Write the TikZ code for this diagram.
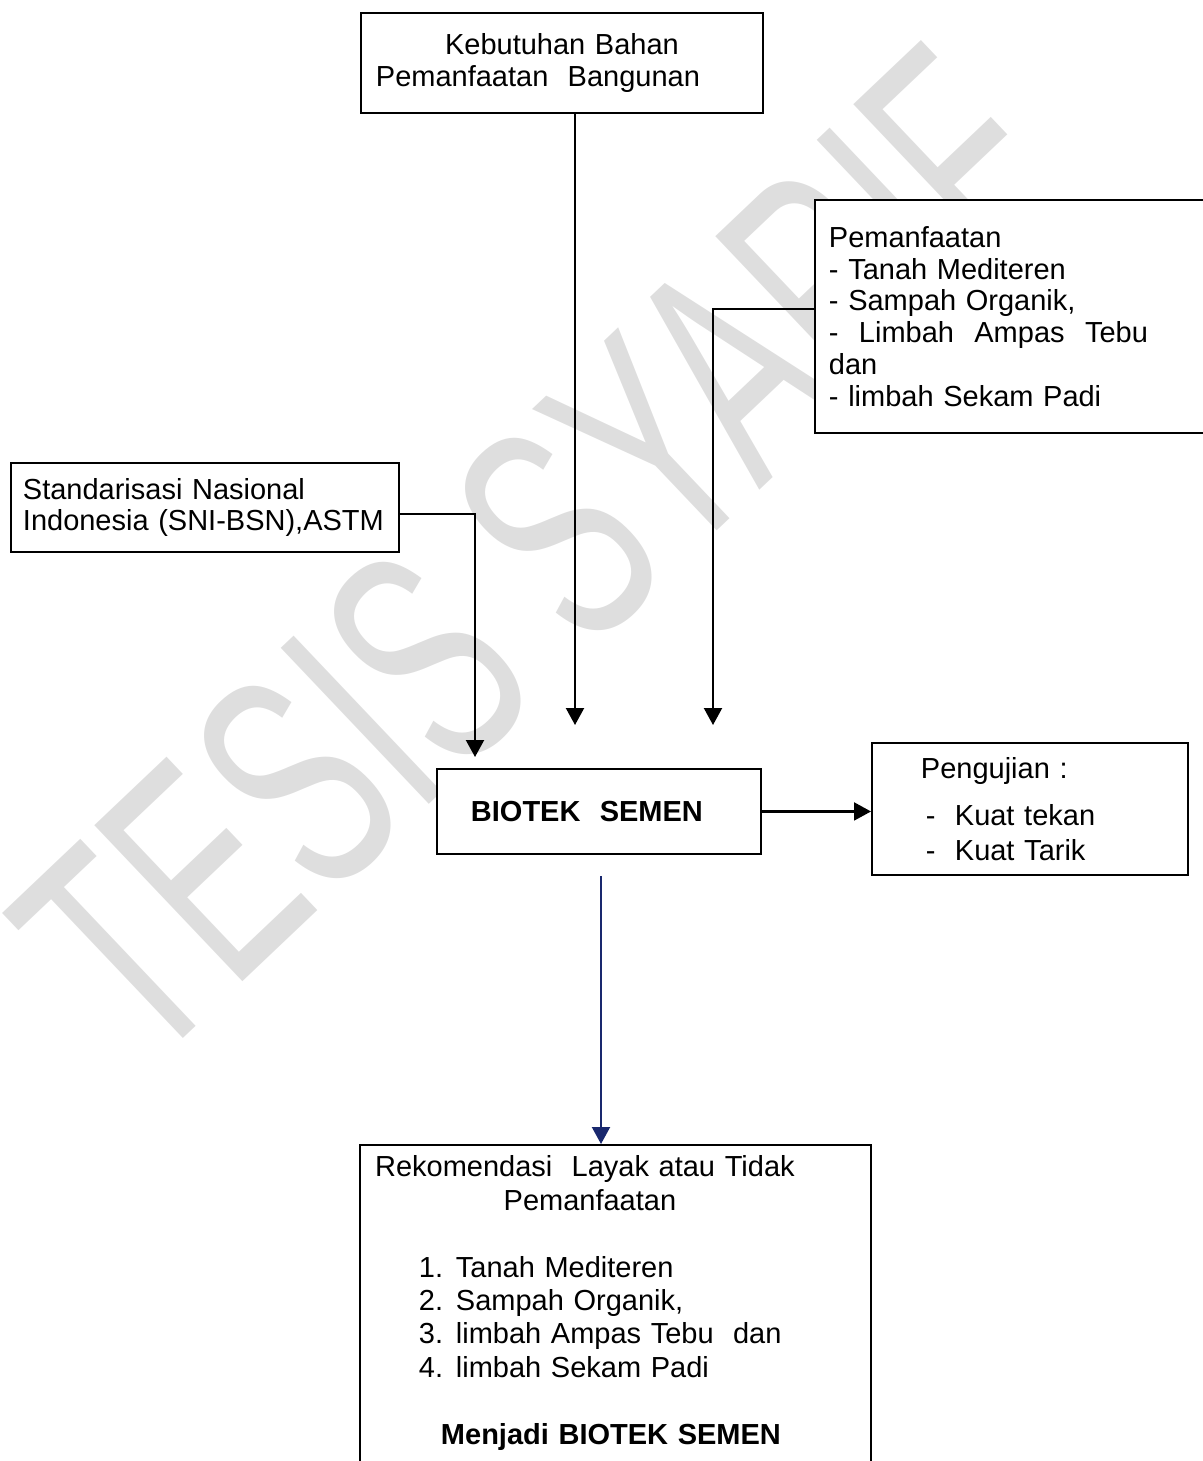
\documentclass[tikz,border=0pt]{standalone}
\usepackage{fontspec}
\setmainfont{Liberation Sans}
\usetikzlibrary{arrows.meta}
\definecolor{biruTua}{RGB}{25,40,110}
\tikzstyle{kotak} = [rectangle, draw=black, fill=white, line width=1.1pt, anchor=north west, align=left, inner ysep=0pt, font=\fontsize{16.5}{18.1}\selectfont]
\tikzstyle{panah} = [line width=1.2pt, -{Triangle[length=0.34cm,width=0.36cm]}]

\begin{document}
\begin{tikzpicture}[x=0.02cm, y=-0.02cm]
\useasboundingbox (0,0) rectangle (1203,1461);

% tanda air
\begin{scope}[shift={(537,554)}, rotate=43.5]
\node[text=black!13, font=\fontsize{178}{178}\selectfont, xscale=0.61, transform shape, inner sep=0pt] (tandaair) at (0,0) {TESIS SYARIF};
\end{scope}

\node[kotak, inner xsep=0.3cm, text width=7.44cm, minimum height=2cm] (kebutuhan) at (360,12) {\makebox[7.44cm]{Kebutuhan Bahan}\\Pemanfaatan\ \ Bangunan};

\node[kotak, inner xsep=0.28cm, text width=7.46cm, minimum height=4.66cm] (pemanfaatan) at (814,199) {Pemanfaatan\\- Tanah Mediteren\\- Sampah Organik,\\\makebox[6.38cm][l]{-\hfill Limbah\hfill Ampas\hfill Tebu}\\dan\\- limbah Sekam Padi};

\node[kotak, inner xsep=0.24cm, text width=7.28cm, minimum height=1.78cm] (standar) at (10,462) {Standarisasi Nasional\\Indonesia (SNI-BSN),ASTM};

\node[kotak, inner xsep=0.68cm, text width=5.12cm, minimum height=1.7cm, font=\bfseries\fontsize{16.5}{18.1}\selectfont] (biotek) at (436,768) {BIOTEK\ \ SEMEN};

\node[kotak, inner xsep=0.98cm, text width=4.36cm, minimum height=2.64cm, font=\fontsize{16.5}{19.8}\selectfont] (pengujian) at (871,742) {Pengujian :\\[7.4pt]\hspace*{0.1cm}-\ \ Kuat tekan\\\hspace*{0.1cm}-\ \ Kuat Tarik};

\node[kotak, inner xsep=0pt, inner ysep=0.22cm, text width=10.22cm, font=\fontsize{16.5}{19}\selectfont] (rekomendasi) at (359,1144) {\makebox[9cm]{Rekomendasi\ \ Layak atau Tidak}\\\makebox[9.2cm]{Pemanfaatan}\\[19pt]
\hspace*{1.18cm}\makebox[0.74cm][l]{1.}Tanah Mediteren\\
\hspace*{1.18cm}\makebox[0.74cm][l]{2.}Sampah Organik,\\
\hspace*{1.18cm}\makebox[0.74cm][l]{3.}limbah Ampas Tebu\ \ dan\\
\hspace*{1.18cm}\makebox[0.74cm][l]{4.}limbah Sekam Padi\\[19pt]
\makebox[10.04cm]{\bfseries Menjadi BIOTEK SEMEN}\\[30pt]\mbox{}};

% ujung panah
\coordinate (ujungK) at (575,725);
\coordinate (ujungP) at (713,725);
\coordinate (ujungS) at (475,757);
\coordinate (awalB) at (601,876);

\draw[panah] (kebutuhan.south -| ujungK) -- (ujungK);
\draw[panah] ([yshift=0.15cm]pemanfaatan.west) -| (ujungP);
\draw[panah] ([yshift=-0.13cm]standar.east) -| (ujungS);
\draw[panah] (biotek.east) -- (pengujian.west |- biotek.east);
\draw[panah, color=biruTua] (awalB) -- (rekomendasi.north -| awalB);
\end{tikzpicture}
\end{document}
